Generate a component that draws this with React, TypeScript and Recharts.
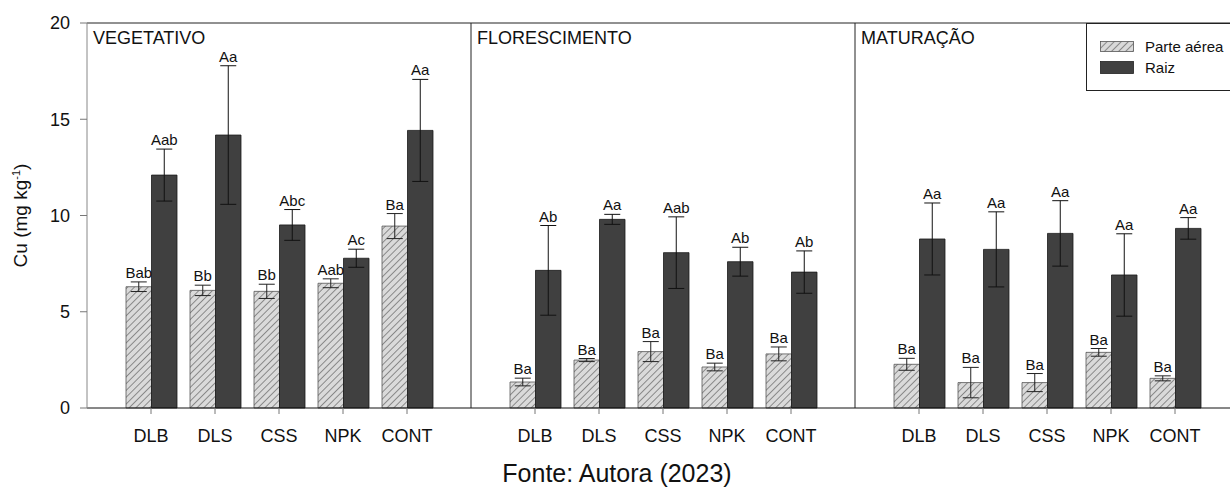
import React from 'react';
import { BarChart, Bar, XAxis, YAxis, ErrorBar, LabelList, Legend, Label } from 'recharts';

const categories = ['DLB', 'DLS', 'CSS', 'NPK', 'CONT'];
const panelTitles = ['VEGETATIVO', 'FLORESCIMENTO', 'MATURAÇÃO'];
const seriesNames = ['Parte aérea', 'Raiz'];
const yTicks = [0, 5, 10, 15, 20];

const vegParte = [6.3, 6.11, 6.06, 6.48, 9.45];
const vegParteErr = [0.25, 0.27, 0.37, 0.23, 0.65];
const vegParteLetters = ['Bab', 'Bb', 'Bb', 'Aab', 'Ba'];
const vegRaiz = [12.1, 14.18, 9.51, 7.78, 14.42];
const vegRaizErr = [1.35, 3.6, 0.8, 0.47, 2.65];
const vegRaizLetters = ['Aab', 'Aa', 'Abc', 'Ac', 'Aa'];

const florParte = [1.35, 2.49, 2.93, 2.13, 2.81];
const florParteErr = [0.2, 0.08, 0.52, 0.2, 0.36];
const florParteLetters = ['Ba', 'Ba', 'Ba', 'Ba', 'Ba'];
const florRaiz = [7.15, 9.8, 8.07, 7.6, 7.06];
const florRaizErr = [2.33, 0.26, 1.86, 0.75, 1.1];
const florRaizLetters = ['Ab', 'Aa', 'Aab', 'Ab', 'Ab'];

const matParte = [2.27, 1.32, 1.32, 2.89, 1.54];
const matParteErr = [0.31, 0.79, 0.47, 0.2, 0.13];
const matParteLetters = ['Ba', 'Ba', 'Ba', 'Ba', 'Ba'];
const matRaiz = [8.78, 8.24, 9.07, 6.91, 9.33];
const matRaizErr = [1.87, 1.95, 1.7, 2.14, 0.56];
const matRaizLetters = ['Aa', 'Aa', 'Aa', 'Aa', 'Aa'];

const FONT = '"Liberation Sans", Arial, sans-serif';

type Row = {
  cat: string;
  parte: number;
  parteErr: number;
  parteLbl: string;
  raiz: number;
  raizErr: number;
  raizLbl: string;
};

const build = (p: number[], pe: number[], pl: string[], r: number[], re: number[], rl: string[]): Row[] =>
  categories.map((c, i) => ({
    cat: c,
    parte: p[i],
    parteErr: pe[i],
    parteLbl: pl[i],
    raiz: r[i],
    raizErr: re[i],
    raizLbl: rl[i],
  }));

const panels: Row[][] = [
  build(vegParte, vegParteErr, vegParteLetters, vegRaiz, vegRaizErr, vegRaizLetters),
  build(florParte, florParteErr, florParteLetters, florRaiz, florRaizErr, florRaizLetters),
  build(matParte, matParteErr, matParteLetters, matRaiz, matRaizErr, matRaizLetters),
];

const makeLetter = (data: Row[], valKey: 'parte' | 'raiz', errKey: 'parteErr' | 'raizErr') => (props: any) => {
  const vb = props.viewBox && props.viewBox.width != null ? props.viewBox : props;
  const x = Number(vb.x);
  const y = Number(vb.y);
  const w = Number(vb.width);
  const h = Number(vb.height);
  const d = data[props.index];
  if (!d) return null;
  const pxPer = h / d[valKey];
  const top = y - d[errKey] * pxPer;
  return (
    <text x={x + w / 2} y={top - 4} textAnchor="middle" fontSize={15} fill="#111" fontFamily={FONT}>
      {props.value}
    </text>
  );
};

const makeTitle = (title: string) => (props: any) => {
  const vb = props.viewBox || {};
  return (
    <text x={Number(vb.x) + 6} y={Number(vb.y) + Number(vb.height) + 20.5} fontSize={18} fill="#111" fontFamily={FONT}>
      {title}
    </text>
  );
};

const yLabel = (props: any) => {
  const vb = props.viewBox || {};
  const cx = Number(vb.x) + 26.5;
  const cy = Number(vb.y) + Number(vb.height) / 2;
  return (
    <text x={cx} y={cy} transform={`rotate(-90, ${cx}, ${cy})`} textAnchor="middle" fontSize={19} fill="#111" fontFamily={FONT}>
      Cu (mg kg
      <tspan dy={-7} fontSize={11}>-1</tspan>
      <tspan dy={7}>)</tspan>
    </text>
  );
};

const renderLegend = () => (
  <div
    style={{
      position: 'relative',
      width: 170,
      height: 68,
      boxSizing: 'border-box',
      border: '1px solid #222',
      background: '#fff',
      fontFamily: FONT,
      fontSize: 15,
      color: '#111',
    }}
  >
    <svg style={{ position: 'absolute', left: 13, top: 17 }} width={34} height={11}>
      <defs>
        <pattern id="hatchL" width="5" height="5" patternUnits="userSpaceOnUse" patternTransform="rotate(45)">
          <rect width="5" height="5" fill="#d9d9d9" />
          <line x1="0" y1="0" x2="0" y2="5" stroke="#3c3c3c" strokeWidth="1" />
        </pattern>
      </defs>
      <rect x={0.5} y={0.5} width={33} height={10} fill="url(#hatchL)" stroke="#555" strokeWidth={0.8} />
    </svg>
    <div style={{ position: 'absolute', left: 58, top: 14, lineHeight: '18px', whiteSpace: 'nowrap' }}>{seriesNames[0]}</div>
    <svg style={{ position: 'absolute', left: 13, top: 36.5 }} width={34} height={13}>
      <rect x={0.5} y={0.5} width={33} height={12} fill="#404040" stroke="#222" strokeWidth={0.8} />
    </svg>
    <div style={{ position: 'absolute', left: 58, top: 35, lineHeight: '18px', whiteSpace: 'nowrap' }}>{seriesNames[1]}</div>
  </div>
);

const Panel = ({ idx }: { idx: number }) => {
  const data = panels[idx];
  const first = idx === 0;
  const hatchId = `hatch${idx}`;
  return (
    <BarChart
      width={first ? 471 : 385}
      height={487}
      data={data}
      margin={{ top: 22, right: 0, bottom: 29, left: 0 }}
      barGap={0}
      barSize={25.5}
    >
      <defs>
        <pattern id={hatchId} width="4.8" height="4.8" patternUnits="userSpaceOnUse" patternTransform="rotate(45)">
          <rect width="4.8" height="4.8" fill="#dadada" />
          <line x1="0" y1="0" x2="0" y2="4.8" stroke="#3a3a3a" strokeWidth="1" />
        </pattern>
      </defs>
      <XAxis
        dataKey="cat"
        interval={0}
        padding={{ left: 32, right: 32 }}
        height={50}
        tickSize={6}
        tickMargin={15}
        axisLine={{ stroke: '#111', strokeWidth: 1 }}
        tickLine={{ stroke: '#777' }}
        tick={{ fontSize: 18, fill: '#111', fontFamily: FONT }}
      />
      <XAxis
        xAxisId="top"
        dataKey="cat"
        orientation="top"
        height={1}
        tick={false}
        tickLine={false}
        axisLine={{ stroke: '#222', strokeWidth: 1 }}
        padding={{ left: 32, right: 32 }}
      >
        <Label content={makeTitle(panelTitles[idx])} />
      </XAxis>
      {first ? (
        <YAxis
          width={87}
          domain={[0, 20]}
          ticks={yTicks}
          tickSize={7}
          tickMargin={10}
          axisLine={{ stroke: '#888' }}
          tickLine={{ stroke: '#777' }}
          tick={{ fontSize: 18, fill: '#111', fontFamily: FONT }}
        >
          <Label content={yLabel} />
        </YAxis>
      ) : (
        <YAxis width={1} domain={[0, 20]} ticks={yTicks} tick={false} tickLine={false} axisLine={{ stroke: '#222' }} />
      )}
      {idx === 2 && (
        <Legend
          layout="vertical"
          align="center"
          verticalAlign="middle"
          wrapperStyle={{ top: 23, left: 232, width: 170 }}
          content={renderLegend}
        />
      )}
      <Bar dataKey="parte" name={seriesNames[0]} fill={`url(#${hatchId})`} stroke="#555" strokeWidth={0.8} isAnimationActive={false}>
        <ErrorBar dataKey="parteErr" width={8} stroke="#222" strokeWidth={1} direction="y" />
        <LabelList dataKey="parteLbl" content={makeLetter(data, 'parte', 'parteErr')} />
      </Bar>
      <Bar dataKey="raiz" name={seriesNames[1]} fill="#404040" stroke="#1a1a1a" strokeWidth={0.8} isAnimationActive={false}>
        <ErrorBar dataKey="raizErr" width={8} stroke="#111" strokeWidth={1} direction="y" />
        <LabelList dataKey="raizLbl" content={makeLetter(data, 'raiz', 'raizErr')} />
      </Bar>
    </BarChart>
  );
};

export default function App() {
  return (
    <div
      style={{
        position: 'absolute',
        left: 0,
        top: 0,
        width: 1230,
        height: 487,
        overflow: 'hidden',
        background: '#fff',
        fontFamily: FONT,
      }}
    >
      <div style={{ position: 'absolute', left: 0, top: 0 }}>
        <Panel idx={0} />
      </div>
      <div style={{ position: 'absolute', left: 470, top: 0 }}>
        <Panel idx={1} />
      </div>
      <div style={{ position: 'absolute', left: 854, top: 0 }}>
        <Panel idx={2} />
      </div>
      <div
        style={{
          position: 'absolute',
          left: 0,
          width: 1234,
          top: 459,
          textAlign: 'center',
          fontSize: 25,
          color: '#111',
          whiteSpace: 'nowrap',
        }}
      >
        Fonte: Autora (2023)
      </div>
    </div>
  );
}
